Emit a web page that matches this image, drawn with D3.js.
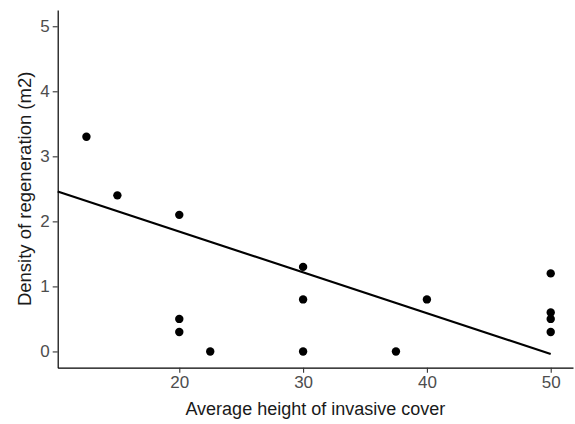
<!DOCTYPE html>
<html>
<head>
    <meta charset="utf-8">
    <script src="https://cdn.jsdelivr.net/npm/d3@7/dist/d3.min.js"></script>
    <style>
        body { margin: 0; background: #fff; }
        text { font-family: "Liberation Sans", Arial, sans-serif; }
    </style>
</head>
<body>
    <svg width="575" height="424" id="mainsvg"></svg>
    <script>
        const svg = d3.select('svg');
        const width = +svg.attr('width');
        const height = +svg.attr('height');

        // scatter points: average height of invasive cover vs density of regeneration
        const heightCover = [12.5, 15, 20, 20, 20, 22.5, 30, 30, 30, 37.5, 40, 50, 50, 50, 50];
        const regenDensity = [3.3, 2.4, 2.1, 0.5, 0.3, 0, 1.3, 0.8, 0, 0, 0.8, 1.2, 0.6, 0.5, 0.3];
        // fitted line, ends
        const fitX = [10.18, 50];
        const fitY = [2.46, -0.04];
        const xTicks = [20, 30, 40, 50];
        const yTicks = [0, 1, 2, 3, 4, 5];

        const margin = {top: 10, right: 2, bottom: 56.3, left: 57.7};
        const innerWidth = width - margin.left - margin.right;
        const innerHeight = height - margin.top - margin.bottom;
        const g = svg.append('g').attr('transform', `translate(${margin.left}, ${margin.top})`);

        const xScale = d3.scaleLinear().domain([10.18, 51.8]).range([0, innerWidth]);
        const yScale = d3.scaleLinear().domain([-0.25, 5.25]).range([innerHeight, 0]);

        // axes
        const xAxis = d3.axisBottom(xScale).tickValues(xTicks).tickFormat(d3.format('d'))
            .tickSizeInner(5).tickSizeOuter(0).tickPadding(3);
        const yAxis = d3.axisLeft(yScale).tickValues(yTicks).tickFormat(d3.format('d'))
            .tickSizeInner(5).tickSizeOuter(0).tickPadding(3);
        const gx = g.append('g').attr('transform', `translate(0, ${innerHeight})`).call(xAxis);
        const gy = g.append('g').call(yAxis);
        [gx, gy].forEach(a => {
            a.attr('font-size', 17).attr('font-family', '"Liberation Sans", Arial, sans-serif');
            a.select('.domain').attr('stroke', '#000').attr('stroke-width', 1.2);
            a.selectAll('.tick line').attr('stroke', '#333').attr('stroke-width', 1.1);
            a.selectAll('.tick text').attr('fill', '#4d4d4d');
        });

        // fit line
        const line = d3.line().x(d => xScale(d[0])).y(d => yScale(d[1]));
        g.append('path')
            .datum(d3.zip(fitX, fitY))
            .attr('d', line)
            .attr('fill', 'none')
            .attr('stroke', '#000')
            .attr('stroke-width', 2.2);

        // points
        g.selectAll('.pt')
            .data(d3.zip(heightCover, regenDensity))
            .join('circle')
            .attr('class', 'pt')
            .attr('cx', d => xScale(d[0]))
            .attr('cy', d => yScale(d[1]))
            .attr('r', 4.2)
            .attr('fill', '#000');

        // axis titles
        svg.append('text')
            .attr('x', margin.left + innerWidth / 2)
            .attr('y', 415)
            .attr('text-anchor', 'middle')
            .style('font-size', '18px')
            .attr('fill', '#1a1a1a')
            .text('Average height of invasive cover');

        svg.append('text')
            .attr('transform', `translate(30.5, ${margin.top + innerHeight / 2}) rotate(-90)`)
            .attr('text-anchor', 'middle')
            .style('font-size', '18.5px')
            .attr('fill', '#1a1a1a')
            .text('Density of regeneration (m2)');
    </script>
</body>
</html>
